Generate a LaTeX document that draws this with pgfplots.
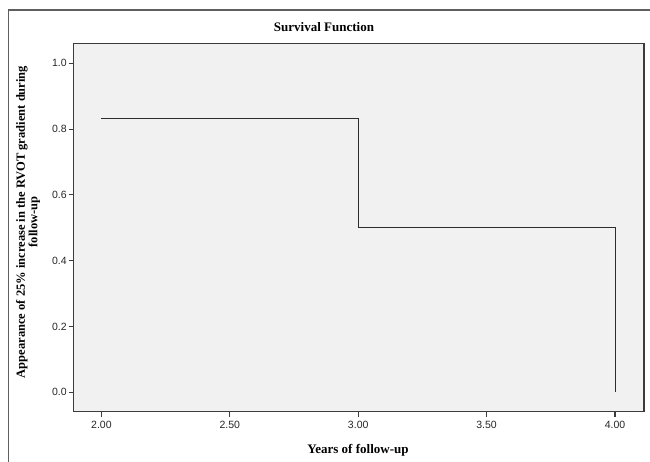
\documentclass[border=0pt]{standalone}
\usepackage{fontspec}
\setmainfont{Liberation Serif}
\newfontfamily\arialf{Liberation Sans}
\usepackage{pgfplots}
\pgfplotsset{compat=1.18}
\definecolor{plotbg}{RGB}{241,241,241}
\definecolor{axcol}{RGB}{60,60,60}
\definecolor{framecol}{RGB}{95,95,95}
\begin{document}
\begin{tikzpicture}[x=1pt,y=1pt]
\useasboundingbox (0,0) rectangle (650,462);
\draw[framecol, line width=1.3pt] (8.3,-20) -- (8.3,452) -- (670,452);
\begin{axis}[
  at={(73.7pt,50.3pt)}, anchor=south west,
  scale only axis, width=570.3pt, height=368.4pt,
  xmin=1.892, xmax=4.113, ymin=-0.059, ymax=1.061,
  axis background/.style={fill=plotbg},
  axis line style={axcol, line width=1.3pt},
  xtick={2,2.5,3,3.5,4},
  ytick={0,0.2,0.4,0.6,0.8,1.0},
  tick align=outside, tick pos=left,
  major tick length=5pt,
  major tick style={draw=axcol, line width=1.1pt},
  /pgf/number format/assume math mode=true,
  xticklabel style={font=\arialf\fontsize{10.5}{11}\selectfont, text=black!85, yshift=-1pt},
  yticklabel style={font=\arialf\fontsize{10.5}{11}\selectfont, text=black!85, xshift=1.5pt},
  xticklabel={\pgfmathprintnumber[fixed,fixed zerofill,precision=2]{\tick}},
  yticklabel={\pgfmathprintnumber[fixed,fixed zerofill,precision=1]{\tick}},
  clip=false,
]
\addplot[draw={rgb,255:red,45;green,45;blue,45}, line width=0.9pt, mark=none]
  coordinates {(2,0.8333) (3,0.8333) (3,0.5) (4,0.5) (4,0)};
\end{axis}
\node[font=\bfseries\fontsize{13}{13}\selectfont] at (324,435.3) {Survival Function};
\node[font=\bfseries\fontsize{13}{13}\selectfont] at (358,12) {Years of follow-up};
\node[font=\bfseries\fontsize{12.5}{11}\selectfont, rotate=90, align=center] at (28,240)
  {Appearance of 25\% increase in the RVOT gradient during\\follow-up};
\end{tikzpicture}
\end{document}
